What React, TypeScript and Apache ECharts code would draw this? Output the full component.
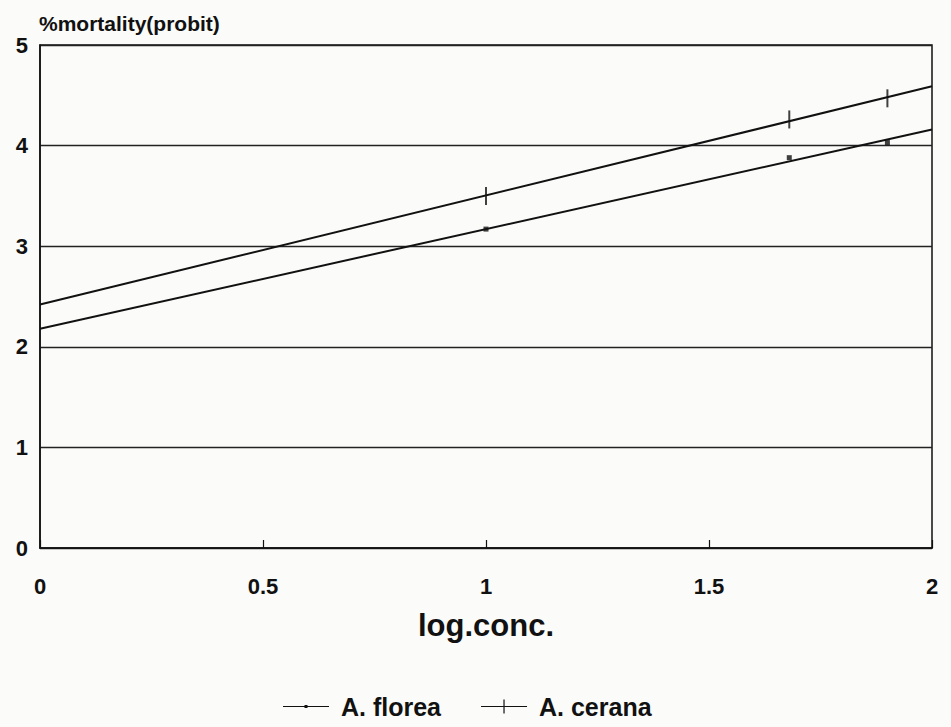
import React, { useEffect, useRef } from "react";
import * as echarts from "echarts";

const xTicks = [0, 0.5, 1, 1.5, 2];
const yTicks = [0, 1, 2, 3, 4, 5];

const floreaLine: [number, number][] = [[0, 2.18], [2, 4.16]];
const ceranaLine: [number, number][] = [[0, 2.42], [2, 4.59]];
const floreaPoints: [number, number][] = [[1, 3.17], [1.68, 3.88], [1.9, 4.03]];
const ceranaPoints: [number, number][] = [[1, 3.5], [1.68, 4.26], [1.9, 4.47]];

const FONT = "'Liberation Sans', Arial, sans-serif";

export default function App() {
  const ref = useRef<HTMLDivElement>(null);
  useEffect(() => {
    if (!ref.current) return;
    const chart = echarts.init(ref.current, undefined, { renderer: "svg" });
    chart.setOption({
      animation: false,
      backgroundColor: "#fbfbf9",
      grid: {
        left: 40, right: 19, top: 45, bottom: 179,
        show: true, borderColor: "#111", borderWidth: 1.5, backgroundColor: "transparent",
      },
      xAxis: {
        type: "value", min: 0, max: 2, interval: 0.5,
        name: "log.conc.", nameLocation: "middle", nameGap: 62,
        nameTextStyle: { fontFamily: FONT, fontSize: 31, color: "#111", fontWeight: "bold" },
        axisLine: { show: true, lineStyle: { color: "#111", width: 1.5 } },
        axisTick: { show: true, inside: true, length: 8, lineStyle: { color: "#111", width: 1.2 } },
        splitLine: { show: false },
        axisLabel: {
          margin: 27, fontFamily: FONT, fontSize: 22, fontWeight: "bold", color: "#111",
          formatter: (v: number) => (xTicks.includes(v) ? String(v) : ""),
        },
      },
      yAxis: {
        type: "value", min: 0, max: 5, interval: 1,
        name: "%mortality(probit)", nameLocation: "end", nameGap: 11,
        nameTextStyle: { fontFamily: FONT, fontSize: 21, fontWeight: "bold", color: "#111", align: "left", padding: [0, 0, 0, -1] },
        axisLine: { show: true, lineStyle: { color: "#111", width: 1.5 } },
        axisTick: { show: false },
        splitLine: { show: true, lineStyle: { color: "#222", width: 1.3 } },
        axisLabel: {
          margin: 12, fontFamily: FONT, fontSize: 22, fontWeight: "bold", color: "#111",
          formatter: (v: number) => (yTicks.includes(v) ? String(v) : ""),
        },
      },
      legend: {
        top: 689, left: 278, itemGap: 40, itemWidth: 46, itemHeight: 14,
        textStyle: { fontFamily: FONT, fontSize: 25, fontWeight: "bold", color: "#111", padding: [0, 0, 0, 7] },
        data: [
          { name: "A. florea", icon: "path://M0,6.4h46v1.2h-46z M21.5,5.5h3v3h-3z", itemStyle: { color: "#111" } },
          { name: "A. cerana", icon: "path://M0,6.4h46v1.2h-46z M22.4,0h1.2v14h-1.2z", itemStyle: { color: "#111" } },
        ],
      },
      series: [
        {
          name: "A. florea", type: "line", data: floreaLine, showSymbol: false, symbol: "none",
          lineStyle: { color: "#111", width: 2 }, itemStyle: { color: "#111" }, z: 3,
        },
        {
          name: "A. cerana", type: "line", data: ceranaLine, showSymbol: false, symbol: "none",
          lineStyle: { color: "#111", width: 2 }, itemStyle: { color: "#111" }, z: 3,
        },
        {
          name: "florea points", type: "scatter", data: floreaPoints, symbol: "rect",
          symbolSize: [5, 5], itemStyle: { color: "#111" }, z: 4,
        },
        {
          name: "cerana points", type: "scatter", data: ceranaPoints, symbol: "rect",
          symbolSize: [2, 18], itemStyle: { color: "#111" }, z: 4,
        },
      ],
    });
    return () => chart.dispose();
  }, []);
  return <div ref={ref} style={{ width: 951, height: 727, position: "absolute", left: 0, top: 0 }} />;
}
